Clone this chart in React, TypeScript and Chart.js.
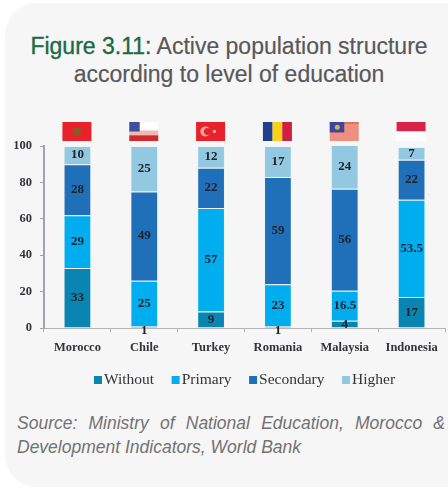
import React, { useEffect, useRef } from "react";
import { Chart, registerables } from "chart.js";

Chart.register(...registerables);

const countries = ["Morocco", "Chile", "Turkey", "Romania", "Malaysia", "Indonesia"];
const without = [33, 1, 9, 1, 4, 17];
const primary = [29, 25, 57, 23, 16.5, 53.5];
const secondary = [28, 49, 22, 59, 56, 22];
const higher = [10, 25, 12, 17, 24, 7];
const yTicks = [0, 20, 40, 60, 80, 100];

const SERIF = '"Liberation Serif", serif';
const SANS = '"Liberation Sans", sans-serif';

type Ctx = CanvasRenderingContext2D;
const flagPainters: ((c: Ctx, x: number, y: number, w: number, h: number) => void)[] = [
  (c, x, y, w, h) => {
    c.fillStyle = "#e8222b"; c.fillRect(x, y, w, h);
    c.fillStyle = "#8a5a28"; c.beginPath(); c.arc(x + w / 2, y + h / 2, 4, 0, Math.PI * 2); c.fill();
  },
  (c, x, y, w, h) => {
    c.fillStyle = "#ffffff"; c.fillRect(x, y, w, h * 0.45);
    c.fillStyle = "#eebbb0"; c.fillRect(x, y + h * 0.45, w, h * 0.25);
    c.fillStyle = "#d2282e"; c.fillRect(x, y + h * 0.7, w, h * 0.3);
    c.fillStyle = "#3f4f9f"; c.fillRect(x, y, w * 0.36, h * 0.5);
  },
  (c, x, y, w, h) => {
    c.fillStyle = "#e8222b"; c.fillRect(x, y, w, h);
    c.fillStyle = "#f3a9a0"; c.beginPath(); c.arc(x + w * 0.32, y + h / 2, 5, 0, Math.PI * 2); c.fill();
    c.fillStyle = "#e8222b"; c.beginPath(); c.arc(x + w * 0.39, y + h / 2, 3.5, 0, Math.PI * 2); c.fill();
    c.fillStyle = "#f3a9a0"; c.fillRect(x + w * 0.58, y + h * 0.42, 3, 3);
  },
  (c, x, y, w, h) => {
    c.fillStyle = "#1f3f8f"; c.fillRect(x, y, w / 3, h);
    c.fillStyle = "#fcd116"; c.fillRect(x + w / 3, y, w / 3, h);
    c.fillStyle = "#ce2040"; c.fillRect(x + (2 * w) / 3, y, w / 3, h);
  },
  (c, x, y, w, h) => {
    c.fillStyle = "#ee9080"; c.fillRect(x, y, w, h);
    c.fillStyle = "#e2705a"; c.fillRect(x, y, w, 2);
    c.fillStyle = "#3f4599"; c.fillRect(x, y, w * 0.5, h * 0.55);
    c.fillStyle = "#c9b84a"; c.beginPath(); c.arc(x + w * 0.26, y + h * 0.27, 2.5, 0, Math.PI * 2); c.fill();
  },
  (c, x, y, w, h) => {
    c.fillStyle = "#d9244a"; c.fillRect(x, y, w, h * 0.5);
    c.fillStyle = "#ffffff"; c.fillRect(x, y + h * 0.5, w, h * 0.5);
  },
];

const flagsPlugin = {
  id: "flags",
  afterDraw(chart: any) {
    const c: Ctx = chart.ctx;
    const xs = chart.scales.x;
    const w = 29, h = 19;
    const top = chart.chartArea.top - 24;
    countries.forEach((_, i) => {
      const x = xs.getPixelForValue(i) - w / 2 - 0.5;
      flagPainters[i](c, x, top, w, h);
    });
  },
};

const labelsPlugin = {
  id: "segmentLabels",
  afterDatasetsDraw(chart: any) {
    const c: Ctx = chart.ctx;
    c.save();
    c.font = `bold 13px ${SERIF}`;
    c.fillStyle = "#20242c";
    c.textAlign = "center";
    c.textBaseline = "middle";
    chart.data.datasets.forEach((ds: any, d: number) => {
      chart.getDatasetMeta(d).data.forEach((bar: any, i: number) => {
        const v = ds.data[i];
        const y = (bar.y + bar.base) / 2 + (v < 5 ? 5 - v : 0);
        c.fillText(String(v), bar.x, y);
      });
    });
    c.restore();
  },
};

const legendPlugin = {
  id: "tightLegend",
  afterDraw(chart: any) {
    const c: Ctx = chart.ctx;
    const a = chart.chartArea;
    const box = 8, gap = 2, between = 17.5, cy = 270;
    c.save();
    c.font = `15.5px ${SERIF}`;
    c.textBaseline = "middle";
    c.textAlign = "left";
    const items = chart.data.datasets.map((ds: any) => ({
      text: ds.label, color: ds.backgroundColor, w: c.measureText(ds.label).width,
    }));
    const total = items.reduce((s: number, it: any) => s + box + gap + it.w, 0) + between * (items.length - 1);
    let x = (a.left + a.right) / 2 - total / 2;
    items.forEach((it: any) => {
      c.fillStyle = it.color;
      c.fillRect(x, cy - box / 2, box, box);
      c.fillStyle = "#333338";
      c.fillText(it.text, x + box + gap, cy);
      x += box + gap + it.w + between;
    });
    c.restore();
  },
};

const edge = "rgba(205,232,245,0.22)";

export default function App() {
  const ref = useRef<HTMLCanvasElement>(null);
  useEffect(() => {
    const chart = new Chart(ref.current!, {
      type: "bar",
      data: {
        labels: countries,
        datasets: [
          { label: "Without", data: without, backgroundColor: "#0a84b0", borderColor: edge, borderWidth: 1 },
          { label: "Primary", data: primary, backgroundColor: "#00aeef", borderColor: edge, borderWidth: 1 },
          { label: "Secondary", data: secondary, backgroundColor: "#1f6fb9", borderColor: edge, borderWidth: 1 },
          { label: "Higher", data: higher, backgroundColor: "#93c9e0", borderColor: edge, borderWidth: 1 },
        ],
      },
      options: {
        responsive: false,
        animation: false,
        layout: { padding: { top: 36, right: 3, left: 0, bottom: 0 } },
        datasets: { bar: { barPercentage: 0.415, categoryPercentage: 1 } },
        plugins: { legend: { display: false }, tooltip: { enabled: false }, title: { display: false } },
        scales: {
          x: {
            stacked: true,
            afterFit: (s: any) => { s.height = 67; },
            border: { color: "#b5b5b8", width: 1 },
            grid: { drawOnChartArea: false, color: "#b5b5b8", tickLength: 4 },
            ticks: {
              autoSkip: false, maxRotation: 0, padding: 8, color: "#333338",
              font: { family: SERIF, size: 12.5, weight: "bold" },
            },
          },
          y: {
            stacked: true,
            min: 0,
            max: 100,
            afterFit: (s: any) => { s.width = 44; },
            afterBuildTicks: (s: any) => { s.ticks = yTicks.map((value) => ({ value })); },
            border: { color: "#a2a2a8", width: 2 },
            grid: { drawOnChartArea: false, color: "#a2a2a8", tickLength: 4 },
            ticks: {
              padding: 8, color: "#333338",
              font: { family: SERIF, size: 12.5, weight: "bold" },
            },
          },
        },
      },
      plugins: [flagsPlugin, labelsPlugin, legendPlugin],
    } as any);
    return () => chart.destroy();
  }, []);

  return (
    <div style={{ position: "fixed", left: 0, top: 0, width: 448, height: 490, background: "#fff", overflow: "hidden" }}>
      <div style={{ position: "absolute", left: 5, top: 3, width: 480, height: 484, borderRadius: 32, background: "#f6f6f6" }} />
      <div style={{
        position: "absolute", left: 0, top: 32, width: 458, textAlign: "center", font: `23px/28px ${SANS}`,
        color: "#58585a", whiteSpace: "nowrap", WebkitTextStroke: "0.2px #58585a",
      }}>
        <span style={{ color: "#1a6b45", WebkitTextStroke: "0.35px #1a6b45" }}>Figure 3.11:</span> Active population structure<br />according to level of education
      </div>
      <canvas ref={ref} width={448} height={285} style={{ position: "absolute", left: 0, top: 110, display: "block" }} />
      <div style={{
        position: "absolute", left: 17, top: 411, width: 428, font: `italic 17.5px/24px ${SANS}`, color: "#727274",
      }}>
        <div style={{ textAlign: "justify", textAlignLast: "justify", whiteSpace: "normal" }}>Source: Ministry of National Education, Morocco &amp;</div>
        <div style={{ whiteSpace: "nowrap" }}>Development Indicators, World Bank</div>
      </div>
    </div>
  );
}
